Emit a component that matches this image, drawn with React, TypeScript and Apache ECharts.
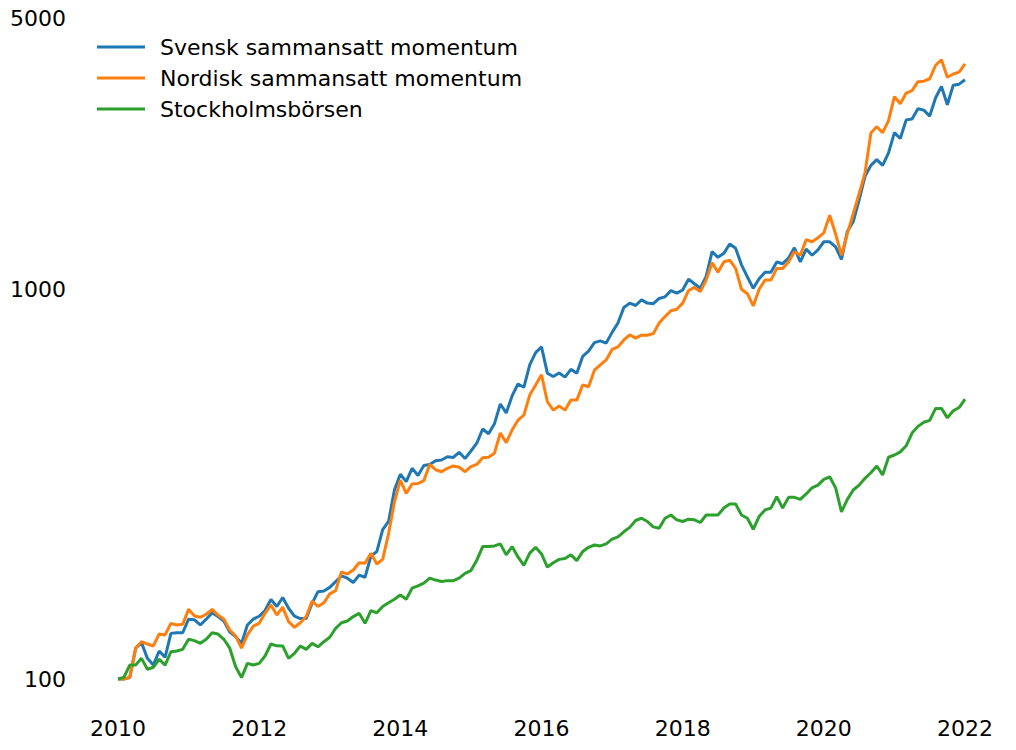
import React, { useRef, useEffect } from "react";
import * as echarts from "echarts";

// månadsvärden jan 2010 – jan 2022, index 100 = start
const SERIES_NAMES = [
  "Svensk sammansatt momentum",
  "Nordisk sammansatt momentum",
  "Stockholmsbörsen",
];

const SERIES_COLORS = ["#1f77b4", "#ff7f0e", "#2ca02c"];

const svensk = [
  100, 100, 100.8, 120, 124, 113, 108.6, 118, 113.7, 131, 131.5, 131.5,
  142.5, 142, 137.7, 142.5, 148, 144.7, 141, 132, 128.5, 123.5, 137.7, 142.5,
  145, 150, 160, 153.6, 162, 152, 145, 143, 143, 156.5, 167.7, 168.4,
  172, 178, 184, 181.6, 177, 185, 182.6, 207, 212.6, 242, 254, 306,
  336, 321.6, 348, 333.6, 354, 356, 364, 365.6, 372.5, 371, 382.5, 368.6,
  385.5, 403.7, 439, 427, 452.8, 509, 483, 534, 573, 562, 642, 690,
  714, 611, 599, 612, 597, 625, 611, 674.5, 696, 732, 740, 730,
  778, 822, 901, 925, 912, 943, 925, 922, 951, 960, 996, 981,
  1000, 1065, 1037, 1010, 1084, 1254, 1213, 1242, 1312, 1280, 1160, 1080,
  1010, 1068, 1110, 1110, 1180, 1168, 1208, 1284, 1180, 1273, 1228, 1268,
  1330, 1330, 1290, 1198, 1414, 1499, 1703, 1958, 2090, 2163, 2090, 2251,
  2537, 2450, 2736, 2750, 2922, 2898, 2797, 3120, 3334, 2992, 3360, 3380,
  3470,
];

const nordisk = [
  100, 100, 101, 120, 124.7, 123, 121.6, 130.5, 129.8, 139, 137.7, 138.2,
  151, 145.2, 144.1, 146.7, 151, 146, 142.5, 133.6, 129, 120, 129.8, 136.8,
  139, 147.5, 155, 146, 153, 140.4, 135.8, 139.5, 144.7, 158.6, 153.6, 157,
  165.5, 168.7, 188.6, 186.1, 190.6, 199, 198.3, 210.6, 197.5, 203, 236.5, 285,
  324.6, 300, 317, 318, 323.5, 356, 345, 341, 348, 352.8, 350, 341,
  351.5, 356, 370.6, 371.5, 380.6, 428.8, 405, 436.5, 462.5, 476.5, 536.8, 569.7,
  605, 516, 491, 503, 491, 521, 521, 570, 564, 622, 642, 661,
  703, 714, 744, 767, 752, 765, 765, 772, 822, 854, 884, 892,
  925, 996, 1015, 990, 1060, 1175, 1110, 1180, 1193, 1136, 1004, 978,
  910, 1004, 1060, 1060, 1136, 1136, 1180, 1254, 1228, 1347, 1330, 1361,
  1402, 1556, 1393, 1228, 1396, 1570, 1767, 2000, 2530, 2628, 2537, 2725,
  3140, 3010, 3207, 3252, 3430, 3440, 3490, 3780, 3905, 3520, 3590, 3630,
  3810,
];

const stockholm = [
  100, 101, 108.6, 108.6, 113, 105.9, 107.2, 112.4, 108.6, 117.5, 118, 119.2,
  126.5, 125.5, 123.5, 126.5, 131.5, 130.5, 126.5, 120, 107.5, 100.8, 109.7, 108.6,
  109.7, 114.6, 123, 121.7, 121.6, 113, 116.4, 121.6, 119.2, 123.5, 121, 124.7,
  128, 135, 139.5, 141, 144.7, 147.5, 139, 149.9, 148, 153.6, 157, 160.3,
  164.4, 160.3, 171.2, 173.5, 176.3, 181.6, 179.6, 178, 179, 179, 181.6, 186.8,
  190, 202, 219, 219, 219.8, 222.5, 208.5, 219, 206, 196, 210.6, 218,
  209.6, 194, 199, 203, 204, 208.5, 201.5, 212.6, 218, 221, 219.8, 222.5,
  228.8, 232, 239, 245.3, 255.5, 258.9, 254, 246, 244, 258.9, 264, 256.5,
  254, 257.5, 256.5, 252.5, 264, 264, 264, 275, 281.7, 281.7, 264, 259,
  242.6, 261.8, 272, 275, 294, 275, 293, 293, 289.5, 299, 310, 315,
  326, 331, 310, 269, 289.5, 306, 315, 328, 339, 352.8, 334.6, 371.5,
  376.5, 383.5, 397.5, 428.8, 446, 457, 462, 496, 496, 469, 489, 498.6,
  524,
];

// tidsaxel: ett värde per månad från 2010
const months = svensk.map((_, i) => 2010 + i / 12);

const X_TICKS = { min: 2010, max: 2022, interval: 2 };
const Y_RANGE = { min: 100, max: 5000 };

const FONT = "DejaVu Sans";

const App: React.FC = () => {
  const chartRef = useRef<HTMLDivElement>(null);

  useEffect(() => {
    if (!chartRef.current) return;
    const chart = echarts.init(chartRef.current, null, { renderer: "svg" });

    const allSeries = [svensk, nordisk, stockholm];

    chart.setOption({
      animation: false,
      backgroundColor: "#ffffff",
      grid: { left: 118, right: 51, top: 18, bottom: 71, containLabel: false },
      legend: {
        orient: "vertical",
        left: 92,
        top: 31,
        icon: "rect",
        itemWidth: 48,
        itemHeight: 3,
        itemGap: 9,
        data: SERIES_NAMES,
        textStyle: {
          fontFamily: FONT,
          fontSize: 22,
          color: "#000000",
          padding: [0, 0, 0, 10],
        },
      },
      xAxis: {
        type: "value",
        min: X_TICKS.min,
        max: X_TICKS.max,
        interval: X_TICKS.interval,
        axisLine: { show: false },
        axisTick: { show: false },
        splitLine: { show: false },
        axisLabel: {
          fontFamily: FONT,
          fontSize: 22,
          color: "#000000",
          margin: 38,
          formatter: (v: number) => String(Math.round(v)),
        },
      },
      yAxis: {
        type: "log",
        logBase: 10,
        min: Y_RANGE.min,
        max: Y_RANGE.max,
        axisLine: { show: false },
        axisTick: { show: false },
        splitLine: { show: false },
        axisLabel: {
          fontFamily: FONT,
          fontSize: 22,
          color: "#000000",
          margin: 52,
          formatter: (v: number) => String(Math.round(v)),
        },
      },
      series: allSeries.map((vals, k) => ({
        name: SERIES_NAMES[k],
        type: "line",
        data: vals.map((v, i) => [months[i], v]),
        showSymbol: false,
        symbol: "none",
        clip: false,
        color: SERIES_COLORS[k],
        lineStyle: { color: SERIES_COLORS[k], width: 3 },
      })),
    });

    return () => {
      chart.dispose();
    };
  }, []);

  return (
    <div
      ref={chartRef}
      style={{ position: "absolute", left: 0, top: 0, width: 1016, height: 750 }}
    />
  );
};

export default App;
